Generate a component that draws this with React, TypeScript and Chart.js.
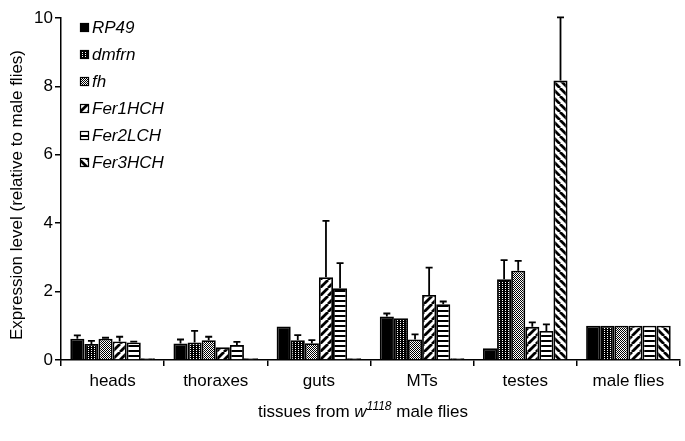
import React, { useEffect, useRef } from "react";
import { Chart, registerables } from "chart.js";

Chart.register(...registerables);

const categories = ["heads", "thoraxes", "guts", "MTs", "testes", "male flies"];
const seriesNames = ["RP49", "dmfrn", "fh", "Fer1HCH", "Fer2LCH", "Fer3HCH"];

const rp49 = [0.62, 0.48, 0.98, 1.27, 0.34, 1];
const dmfrn = [0.47, 0.51, 0.58, 1.22, 2.36, 1];
const fh = [0.62, 0.58, 0.49, 0.6, 2.61, 1];
const fer1hch = [0.54, 0.37, 2.42, 1.9, 0.97, 1];
const fer2lch = [0.51, 0.44, 2.1, 1.63, 0.85, 1];
const fer3hch = [0.05, 0.05, 0.05, 0.05, 8.17, 1];

const rp49Err = [0.1, 0.12, 0, 0.09, 0, 0];
const dmfrnErr = [0.09, 0.34, 0.15, 0, 0.56, 0];
const fhErr = [0.03, 0.1, 0.09, 0.15, 0.29, 0];
const fer1hchErr = [0.14, 0, 1.65, 0.8, 0.13, 0];
const fer2lchErr = [0.03, 0.09, 0.73, 0.08, 0.19, 0];
const fer3hchErr = [0, 0, 0, 0, 1.85, 0];

const yTicks = [0, 2, 4, 6, 8, 10];

const FONT = "'Liberation Sans', Arial, sans-serif";

function makePattern(kind: string): CanvasPattern | string {
  const c = document.createElement("canvas");
  const ctx = c.getContext("2d")!;
  if (kind === "solid") return "#000";
  if (kind === "dmfrn") {
    c.width = 3; c.height = 2;
    ctx.fillStyle = "#000"; ctx.fillRect(0, 0, 3, 2);
    ctx.fillStyle = "#fff"; ctx.fillRect(1, 0, 1, 1);
  } else if (kind === "fh") {
    c.width = 2; c.height = 2;
    ctx.fillStyle = "#fff"; ctx.fillRect(0, 0, 2, 2);
    ctx.fillStyle = "#000"; ctx.fillRect(0, 0, 1, 1); ctx.fillRect(1, 1, 1, 1);
  } else if (kind === "fwd" || kind === "back") {
    const s = 8;
    c.width = s; c.height = s;
    ctx.fillStyle = "#fff"; ctx.fillRect(0, 0, s, s);
    ctx.strokeStyle = "#000"; ctx.lineWidth = 2.8;
    ctx.beginPath();
    if (kind === "fwd") {
      for (const o of [-s, 0, s]) { ctx.moveTo(o, s); ctx.lineTo(o + s, 0); }
    } else {
      for (const o of [-s, 0, s]) { ctx.moveTo(o, 0); ctx.lineTo(o + s, s); }
    }
    ctx.stroke();
  } else if (kind === "horiz") {
    c.width = 4; c.height = 5;
    ctx.fillStyle = "#fff"; ctx.fillRect(0, 0, 4, 5);
    ctx.fillStyle = "#000"; ctx.fillRect(0, 0, 4, 2);
  }
  return ctx.createPattern(c, "repeat")!;
}

export default function App() {
  const ref = useRef<HTMLCanvasElement>(null);
  useEffect(() => {
    document.body.style.margin = "0";
    const values = [rp49, dmfrn, fh, fer1hch, fer2lch, fer3hch];
    const errs = [rp49Err, dmfrnErr, fhErr, fer1hchErr, fer2lchErr, fer3hchErr];
    const kinds = ["solid", "dmfrn", "fh", "fwd", "horiz", "back"];
    const fills = kinds.map(makePattern);

    const overlay = {
      id: "overlay",
      afterDatasetsDraw(chart: any) {
        const ctx = chart.ctx;
        const ys = chart.scales.y;
        ctx.save();
        ctx.strokeStyle = "#000";
        ctx.lineWidth = 1.8;
        values.forEach((vals, i) => {
          const meta = chart.getDatasetMeta(i);
          meta.data.forEach((el: any, j: number) => {
            const e = errs[i][j];
            if (!e) return;
            const top = ys.getPixelForValue(vals[j] + e);
            ctx.beginPath();
            ctx.moveTo(el.x, el.y);
            ctx.lineTo(el.x, top);
            ctx.moveTo(el.x - 3.5, top);
            ctx.lineTo(el.x + 3.5, top);
            ctx.stroke();
          });
        });
        ctx.restore();
      },
      afterDraw(chart: any) {
        const ctx = chart.ctx;
        ctx.save();
        ctx.fillStyle = "#000";
        seriesNames.forEach((name, i) => {
          const cy = 27 + i * 27;
          ctx.fillStyle = fills[i] as any;
          ctx.fillRect(80, cy - 4, 9, 9);
          ctx.strokeStyle = "#000";
          ctx.lineWidth = 1.2;
          ctx.strokeRect(80.5, cy - 3.5, 8, 8);
          ctx.fillStyle = "#000";
          ctx.font = `italic 17px ${FONT}`;
          ctx.textBaseline = "middle";
          ctx.textAlign = "left";
          ctx.fillText(name, 92, cy + 1);
        });
        ctx.save();
        ctx.translate(17, 195);
        ctx.rotate(-Math.PI / 2);
        ctx.font = `17px ${FONT}`;
        ctx.textAlign = "center";
        ctx.textBaseline = "middle";
        ctx.fillText("Expression level (relative to male flies)", 0, 0);
        ctx.restore();
        const parts = [
          { t: "tissues from ", f: `17px ${FONT}`, dy: 0 },
          { t: "w", f: `italic 17px ${FONT}`, dy: 0 },
          { t: "1118", f: `italic 12px ${FONT}`, dy: -7 },
          { t: " male flies", f: `17px ${FONT}`, dy: 0 },
        ];
        let total = 0;
        parts.forEach((p) => { ctx.font = p.f; total += ctx.measureText(p.t).width; });
        let x = 363 - total / 2;
        ctx.textAlign = "left";
        ctx.textBaseline = "alphabetic";
        parts.forEach((p) => {
          ctx.font = p.f;
          ctx.fillText(p.t, x, 417 + p.dy);
          x += ctx.measureText(p.t).width;
        });
        ctx.restore();
      },
    };

    const chart = new Chart(ref.current!, {
      type: "bar",
      data: {
        labels: categories,
        datasets: values.map((v, i) => ({
          label: seriesNames[i],
          data: v,
          backgroundColor: fills[i] as any,
          borderColor: "#000",
          borderWidth: 1.8,
          categoryPercentage: 0.82,
          barPercentage: 1,
        })),
      },
      options: {
        animation: false,
        responsive: false,
        layout: { padding: { top: 18, right: 5, left: 0, bottom: 0 } },
        plugins: { legend: { display: false }, tooltip: { enabled: false } },
        scales: {
          x: {
            grid: { display: true, drawOnChartArea: false, drawTicks: true, tickLength: 6, color: "#000", lineWidth: 1.5, offset: true },
            border: { display: true, color: "#000", width: 1.5 },
            ticks: { color: "#000", font: { family: FONT, size: 17 }, padding: 5, maxRotation: 0 },
            afterFit: (s: any) => { s.height = 81; },
          },
          y: {
            min: 0,
            max: 10,
            afterBuildTicks: (s: any) => { s.ticks = yTicks.map((v) => ({ value: v })); },
            grid: { display: true, drawOnChartArea: false, drawTicks: true, tickLength: 6, color: "#000", lineWidth: 1.5 },
            border: { display: true, color: "#000", width: 1.5 },
            ticks: { color: "#000", font: { family: FONT, size: 17 }, padding: 2 },
            afterFit: (s: any) => { s.width = 61; },
          },
        },
      },
      plugins: [overlay],
    });
    return () => chart.destroy();
  }, []);
  return <canvas ref={ref} width={685} height={441} style={{ display: "block" }} />;
}
